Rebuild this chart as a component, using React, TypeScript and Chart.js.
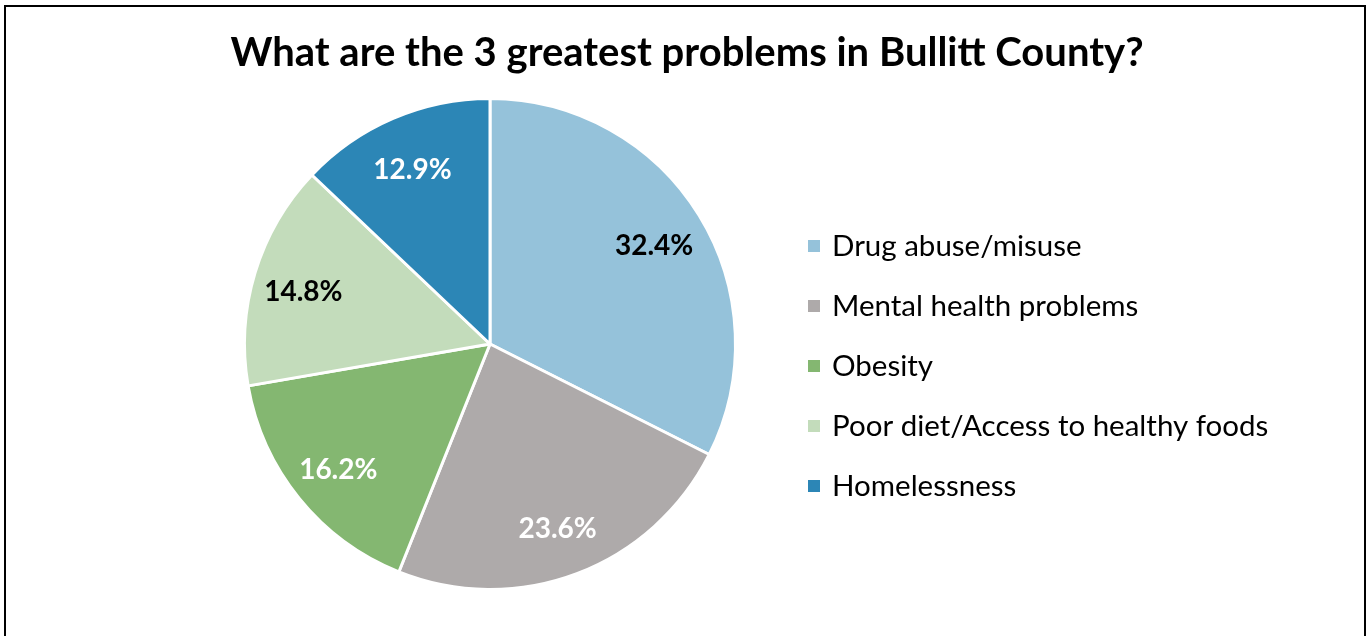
import React, { useEffect, useRef } from "react";
import { Chart, registerables } from "chart.js";

Chart.register(...registerables);

const title = "What are the 3 greatest problems in Bullitt County?";
const categories = [
  "Drug abuse/misuse",
  "Mental health problems",
  "Obesity",
  "Poor diet/Access to healthy foods",
  "Homelessness",
];
const values = [32.4, 23.6, 16.2, 14.8, 12.9];
const colors = ["#95C2DA", "#AEAAAA", "#84B771", "#C3DCBB", "#2C86B6"];
const labelColors = ["#000000", "#FFFFFF", "#FFFFFF", "#000000", "#FFFFFF"];

const FONT = "Lato, 'Open Sans', sans-serif";

const decor = {
  id: "decor",
  afterDraw(chart: any) {
    const ctx = chart.ctx;
    ctx.save();
    // frame
    ctx.strokeStyle = "#000";
    ctx.lineWidth = 2;
    ctx.beginPath();
    ctx.moveTo(5, 640);
    ctx.lineTo(5, 6);
    ctx.lineTo(1365, 6);
    ctx.lineTo(1365, 640);
    ctx.stroke();
    // title
    ctx.fillStyle = "#000";
    ctx.font = `bold 40px ${FONT}`;
    ctx.textAlign = "center";
    ctx.textBaseline = "middle";
    ctx.fillText(title, 687, 53);
    // data labels
    const meta = chart.getDatasetMeta(0);
    ctx.font = `bold 28px ${FONT}`;
    meta.data.forEach((arc: any, i: number) => {
      const mid = (arc.startAngle + arc.endAngle) / 2;
      const r = arc.outerRadius * 0.79;
      const x = arc.x + Math.cos(mid) * r;
      const y = arc.y + Math.sin(mid) * r;
      ctx.fillStyle = labelColors[i];
      ctx.fillText(values[i].toFixed(1) + "%", x - 1, y + 4);
    });
    // legend
    ctx.textAlign = "left";
    ctx.font = `29.5px ${FONT}`;
    categories.forEach((c, i) => {
      const y = 246 + i * 60;
      ctx.fillStyle = colors[i];
      ctx.fillRect(808, y - 6, 12, 12);
      ctx.fillStyle = "#000";
      ctx.fillText(c, 832, y);
    });
    ctx.restore();
  },
};

export default function App() {
  const ref = useRef<HTMLCanvasElement>(null);
  useEffect(() => {
    const chart = new Chart(ref.current!, {
      type: "pie",
      data: {
        labels: categories,
        datasets: [
          {
            data: values,
            backgroundColor: colors,
            borderColor: "#FFFFFF",
            borderWidth: 3,
          },
        ],
      },
      options: {
        animation: false,
        responsive: false,
        maintainAspectRatio: false,
        layout: { padding: { left: 243, right: 630, top: 96, bottom: 44 } },
        plugins: {
          legend: { display: false },
          title: { display: false },
          tooltip: { enabled: false },
        },
      },
      plugins: [decor],
    });
    return () => chart.destroy();
  }, []);
  return (
    <div style={{ position: "absolute", left: 0, top: 0, width: 1367, height: 636, background: "#fff" }}>
      <canvas ref={ref} width={1367} height={636} style={{ width: 1367, height: 636 }} />
    </div>
  );
}
